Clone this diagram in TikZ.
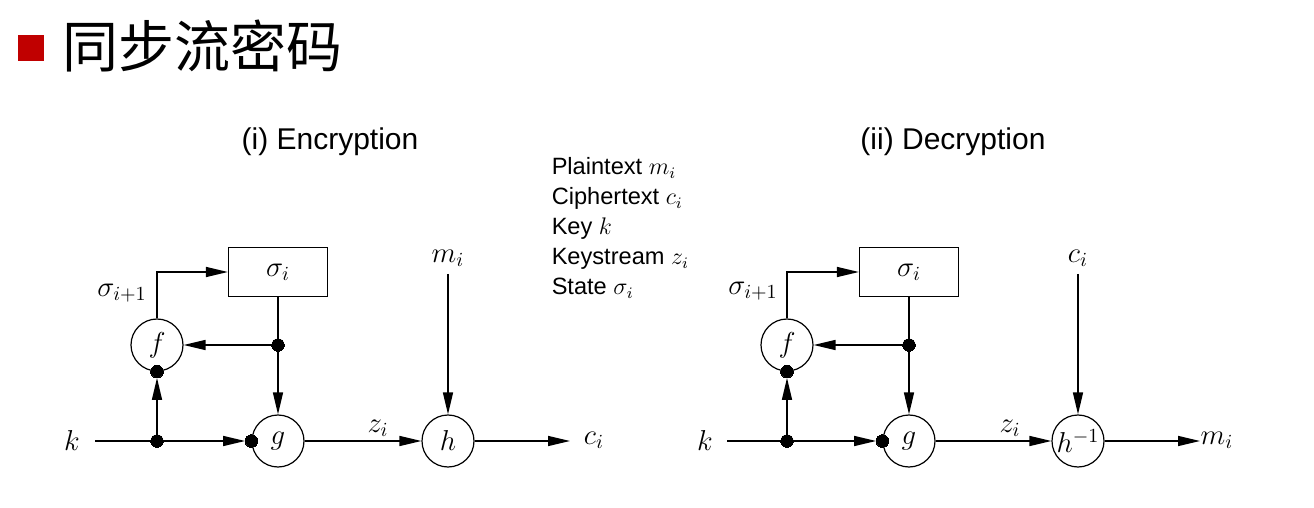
\documentclass[tikz,border=0pt]{standalone}
\usepackage{fontspec}
\setsansfont{Liberation Sans}
\newfontfamily\cjk{Noto Sans CJK SC}
\usetikzlibrary{arrows.meta}
\definecolor{bulletred}{RGB}{192,0,0}
\newcommand\mfs{\fontsize{14}{16}\selectfont}
\begin{document}
\begin{tikzpicture}[x=0.5pt,y=-0.5pt, line width=0.75pt,
  circ/.style={circle,draw,line width=0.6pt,minimum size=26pt,inner sep=0pt,font=\mfs},
  statebox/.style={rectangle,draw,line width=0.6pt,minimum width=49.5pt,minimum height=24.5pt,inner sep=0pt,font=\mfs},
  jdot/.style={circle,fill,draw,line width=0pt,minimum size=6.3pt,inner sep=0pt},
  lbl/.style={font=\mfs},
  arr/.style={-{Triangle[length=11pt,width=5pt]}},
  head/.style={font=\sffamily\fontsize{15}{18}\selectfont}]
\useasboundingbox (0,0) rectangle (1314,508);
% title
\node[fill=bulletred,minimum size=13pt,inner sep=0pt] (bul) at (31,48) {};
\node[anchor=west,font=\cjk\fontsize{28}{30}\selectfont,inner sep=0pt] (title) at (62,46) {同步流密码};
% headings
\node[head] (ehead) at (330,142) {(i) Encryption};
\node[head] (dhead) at (953,142) {(ii) Decryption};
% legend
\node[anchor=north west,align=left,inner sep=0pt,font=\sffamily\fontsize{11.8}{15}\selectfont] (legend) at (551,157)
  {Plaintext $m_i$\\Ciphertext $c_i$\\Key $k$\\Keystream $z_i$\\State $\sigma_i$};
% ---------- encryption ----------
\node[statebox] (es) at (278,272) {$\sigma_i$};
\node[circ] (ef) at (157,345) {$f$};
\node[circ] (eg) at (278,441) {$g$};
\node[circ] (eh) at (448,441) {$h$};
\node[jdot] (ed1) at (278,345) {};
\node[jdot] (ed2) at (157,441) {};
\node[jdot] (egl) at (eg.west) {};
\node[jdot] (efb) at (ef.south) {};
\node[lbl] (ek) at (72,441) {$k$};
\coordinate (ekin) at (95,441);
\node[lbl] (ez) at (378,428) {$z_i$};
\node[lbl] (em) at (448,258) {$m_i$};
\coordinate (eout) at (570,441);
\node[lbl] (ec) at (594,440) {$c_i$};
\node[lbl] (esig) at (122,293) {$\sigma_{i+1}$};
\draw (ekin) -- (ed2);
\draw[arr] (ed2) -- (egl.west);
\draw[arr] (ed2) -- (efb.south);
\draw (es.south) -- (ed1);
\draw[arr] (ed1) -- (eg.north);
\draw[arr] (ed1) -- (ef.east);
\draw[arr] (ef.north) |- (es.west);
\draw[arr] (eg.east) -- (eh.west);
\draw[arr] (em.south) -- (eh.north);
\draw[arr] (eh.east) -- (eout);
% ---------- decryption ----------
\node[statebox] (ds) at (909,272) {$\sigma_i$};
\node[circ] (df) at (787,345) {$f$};
\node[circ] (dg) at (909,441) {$g$};
\node[circ] (dh) at (1078,441) {$h^{-1}$};
\node[jdot] (dd1) at (909,345) {};
\node[jdot] (dd2) at (787,441) {};
\node[jdot] (dgl) at (dg.west) {};
\node[jdot] (dfb) at (df.south) {};
\node[lbl] (dk) at (705,441) {$k$};
\coordinate (dkin) at (727,441);
\node[lbl] (dz) at (1010,428) {$z_i$};
\node[lbl] (dc) at (1078,258) {$c_i$};
\coordinate (dout) at (1200,441);
\node[lbl] (dm) at (1217,440) {$m_i$};
\node[lbl] (dsig) at (753,291) {$\sigma_{i+1}$};
\draw (dkin) -- (dd2);
\draw[arr] (dd2) -- (dgl.west);
\draw[arr] (dd2) -- (dfb.south);
\draw (ds.south) -- (dd1);
\draw[arr] (dd1) -- (dg.north);
\draw[arr] (dd1) -- (df.east);
\draw[arr] (df.north) |- (ds.west);
\draw[arr] (dg.east) -- (dh.west);
\draw[arr] (dc.south) -- (dh.north);
\draw[arr] (dh.east) -- (dout);
\end{tikzpicture}
\end{document}
